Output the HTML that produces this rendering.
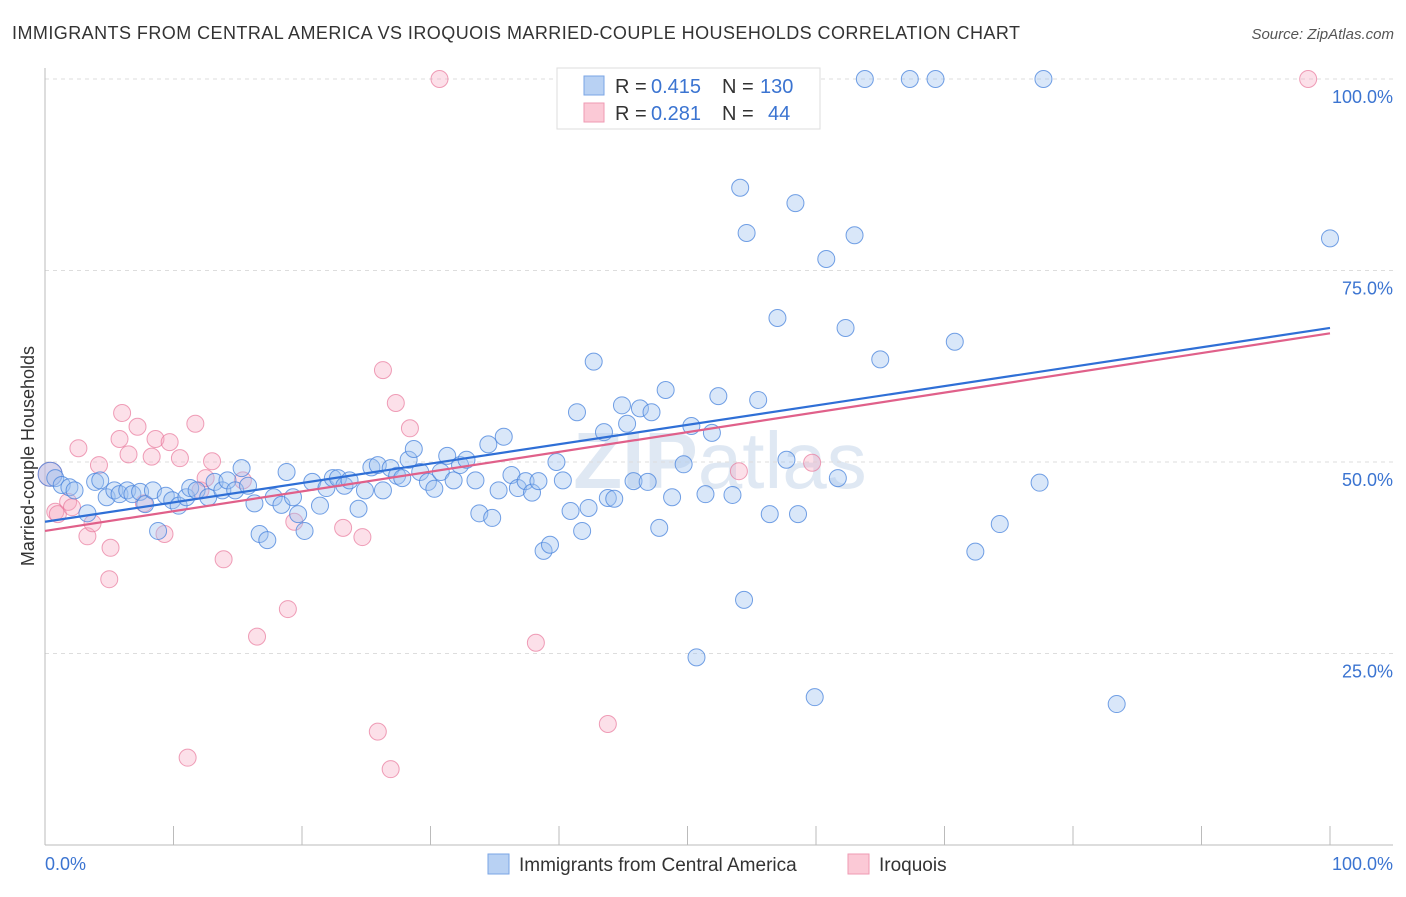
<!DOCTYPE html>
<html><head><meta charset="utf-8"><style>
body{margin:0;background:#fff;font-family:"Liberation Sans",sans-serif;}
</style></head><body>
<svg id="chart" width="1406" height="892" xmlns="http://www.w3.org/2000/svg" font-family="Liberation Sans, sans-serif">
<text x="12" y="39" font-size="18" fill="#333" textLength="1008" lengthAdjust="spacing">IMMIGRANTS FROM CENTRAL AMERICA VS IROQUOIS MARRIED-COUPLE HOUSEHOLDS CORRELATION CHART</text>
<text x="1394" y="39" font-size="15" fill="#555" text-anchor="end" font-style="italic">Source: ZipAtlas.com</text>
<text x="720" y="488" font-size="80" fill="#dfe8f3" text-anchor="middle" font-weight="bold">ZIP<tspan font-weight="normal">atlas</tspan></text>
<g id="grid"></g>
<g id="axes"></g>
<g id="pink"></g>
<g id="blue"></g>
<g id="lines"></g>
<text transform="translate(34,456) rotate(-90)" font-size="18" fill="#333" text-anchor="middle">Married-couple Households</text>
<text x="45" y="870" font-size="18" fill="#3b74d1">0.0%</text>
<text x="1393" y="870" font-size="18" fill="#3b74d1" text-anchor="end">100.0%</text>
<g>
<rect x="557" y="68" width="263" height="61" fill="#fff" stroke="#ddd"/>
<rect x="584" y="76" width="20" height="19" fill="#b8d1f3" stroke="#7aa5e6"/>
<rect x="584" y="103" width="20" height="19" fill="#fbc9d6" stroke="#ef9ab3"/>
<text x="615" y="93" font-size="20" fill="#333">R =</text>
<text x="651" y="93" font-size="20" fill="#3b74d1">0.415</text>
<text x="722" y="93" font-size="20" fill="#333">N =</text>
<text x="760" y="93" font-size="20" fill="#3b74d1">130</text>
<text x="615" y="120" font-size="20" fill="#333">R =</text>
<text x="651" y="120" font-size="20" fill="#3b74d1">0.281</text>
<text x="722" y="120" font-size="20" fill="#333">N =</text>
<text x="768" y="120" font-size="20" fill="#3b74d1">44</text>
</g>
<g>
<rect x="488" y="854" width="21" height="20" fill="#b8d1f3" stroke="#7aa5e6"/>
<text x="519" y="871" font-size="19" fill="#333">Immigrants from Central America</text>
<rect x="848" y="854" width="21" height="20" fill="#fbc9d6" stroke="#ef9ab3"/>
<text x="879" y="871" font-size="19" fill="#333">Iroquois</text>
</g>
</svg>
<script>
const yTicks=[25,50,75,100];
const yTickLabels=["25.0%","50.0%","75.0%","100.0%"];
const blueX=[0.4,0.8,1.3,1.9,2.3,3.3,3.9,4.3,4.8,5.4,5.8,6.4,6.8,7.4,7.8,8.4,8.8,9.4,9.9,10.4,11.0,11.3,11.8,12.7,13.2,13.8,14.2,14.8,15.3,15.8,16.3,16.7,17.3,17.8,18.4,18.8,19.3,19.7,20.2,20.8,21.4,21.9,22.4,22.8,23.3,23.7,24.4,24.9,25.4,25.9,26.3,26.9,27.4,27.8,28.3,28.7,29.2,29.8,30.3,30.8,31.3,31.8,32.3,32.8,33.5,33.8,34.5,34.8,35.3,35.7,36.3,36.8,37.4,37.9,38.4,38.8,39.3,39.8,40.3,40.9,41.4,41.8,42.3,42.7,43.5,43.8,44.3,44.9,45.3,45.8,46.3,46.9,47.2,47.8,48.3,48.8,49.7,50.3,50.7,51.4,51.9,52.4,53.5,54.1,54.4,54.6,55.5,56.4,57.0,57.7,58.4,58.6,59.9,60.8,61.7,62.3,63.0,63.8,65.0,67.3,69.3,70.8,72.4,74.3,77.4,77.7,83.4,100];
const blueY=[48.4,47.9,47.0,46.7,46.3,43.3,47.4,47.6,45.4,46.3,45.8,46.3,45.8,46.1,44.5,46.3,41.0,45.6,45.0,44.3,45.4,46.6,46.3,45.4,47.4,46.3,47.6,46.3,49.2,46.9,44.6,40.6,39.8,45.4,44.4,48.7,45.4,43.2,41.0,47.4,44.3,46.6,47.9,47.9,46.9,47.6,43.9,46.3,49.3,49.6,46.3,49.2,48.2,47.9,50.3,51.7,48.7,47.4,46.5,48.7,50.8,47.6,49.6,50.3,47.6,43.3,52.3,42.7,46.3,53.3,48.3,46.6,47.5,46.0,47.5,38.4,39.2,50.0,47.6,43.6,56.5,41.0,44.0,63.1,53.9,45.3,45.2,57.4,55.0,47.5,57.0,47.4,56.5,41.4,59.4,45.4,49.7,54.7,24.5,45.8,53.8,58.6,45.7,85.8,32.0,79.9,58.1,43.2,68.8,50.3,83.8,43.2,19.3,76.5,47.9,67.5,79.6,100,63.4,100,100,65.7,38.3,41.9,47.3,100,18.4,79.2];
const pinkX=[0.4,0.8,1.0,1.8,2.1,2.6,3.3,3.7,4.2,5.0,5.1,5.8,6.0,6.5,7.2,7.7,8.3,8.6,9.3,9.7,10.5,11.1,11.7,12.1,12.5,13.0,13.9,15.4,16.5,18.9,19.4,23.2,24.7,25.9,26.3,26.9,27.3,28.4,30.7,38.2,43.8,54.0,59.7,98.3];
const pinkY=[48.4,43.5,43.2,44.8,44.1,51.8,40.3,42.0,49.6,34.7,38.8,53.0,56.4,51.0,54.6,44.6,50.7,53.0,40.6,52.6,50.5,11.4,55.0,46.3,47.9,50.1,37.3,47.6,27.2,30.8,42.2,41.4,40.2,14.8,62.0,9.9,57.7,54.4,100,26.4,15.8,48.8,49.9,100];
const blueTrend=[42.2,67.5];
const pinkTrend=[41.0,66.8];
const NS="http://www.w3.org/2000/svg";
const sx=v=>45+v*12.85, sy=v=>845-v*7.66;
function mk(tag,attrs,parent){const e=document.createElementNS(NS,tag);for(const k in attrs)e.setAttribute(k,attrs[k]);parent.appendChild(e);return e;}
const grid=document.getElementById('grid'),axes=document.getElementById('axes');
yTicks.forEach((t,i)=>{
 const l=mk('line',{x1:45,x2:1393,y1:sy(t),y2:sy(t),stroke:'#ddd','stroke-dasharray':'4,4'},grid);
 
 
 const tx=mk('text',{x:1393,y:sy(t)+24,'font-size':18,fill:'#3b74d1','text-anchor':'end'},grid);
 tx.textContent=yTickLabels[i];
 
 
});
let a=mk('line',{x1:45,x2:45,y1:68,y2:845,stroke:'#bbb'},axes);


a=mk('line',{x1:45,x2:1393,y1:845,y2:845,stroke:'#bbb'},axes);


for(let i=1;i<=10;i++){const t=mk('line',{x1:sx(i*10),x2:sx(i*10),y1:826,y2:845,stroke:'#bbb'},axes);
 
 }
const pg=document.getElementById('pink');
pinkX.forEach((x,i)=>{const c=mk('circle',{cx:sx(x),cy:sy(pinkY[i]),r:i===0?12:8.5,fill:'rgba(246,167,191,0.35)',stroke:'rgba(232,120,155,0.7)','stroke-width':1},pg);
 
 });
const bg=document.getElementById('blue');
blueX.forEach((x,i)=>{const c=mk('circle',{cx:sx(x),cy:sy(blueY[i]),r:i===0?12:8.5,fill:'rgba(160,195,240,0.4)',stroke:'rgba(70,130,220,0.75)','stroke-width':1},bg);
 
 });
const lg=document.getElementById('lines');
let ln=mk('line',{x1:sx(0),x2:sx(100),y1:sy(pinkTrend[0]),y2:sy(pinkTrend[1]),stroke:'#e0608a','stroke-width':2.2},lg);


ln=mk('line',{x1:sx(0),x2:sx(100),y1:sy(blueTrend[0]),y2:sy(blueTrend[1]),stroke:'#2f6fd6','stroke-width':2.2},lg);


</script>
</body></html>
